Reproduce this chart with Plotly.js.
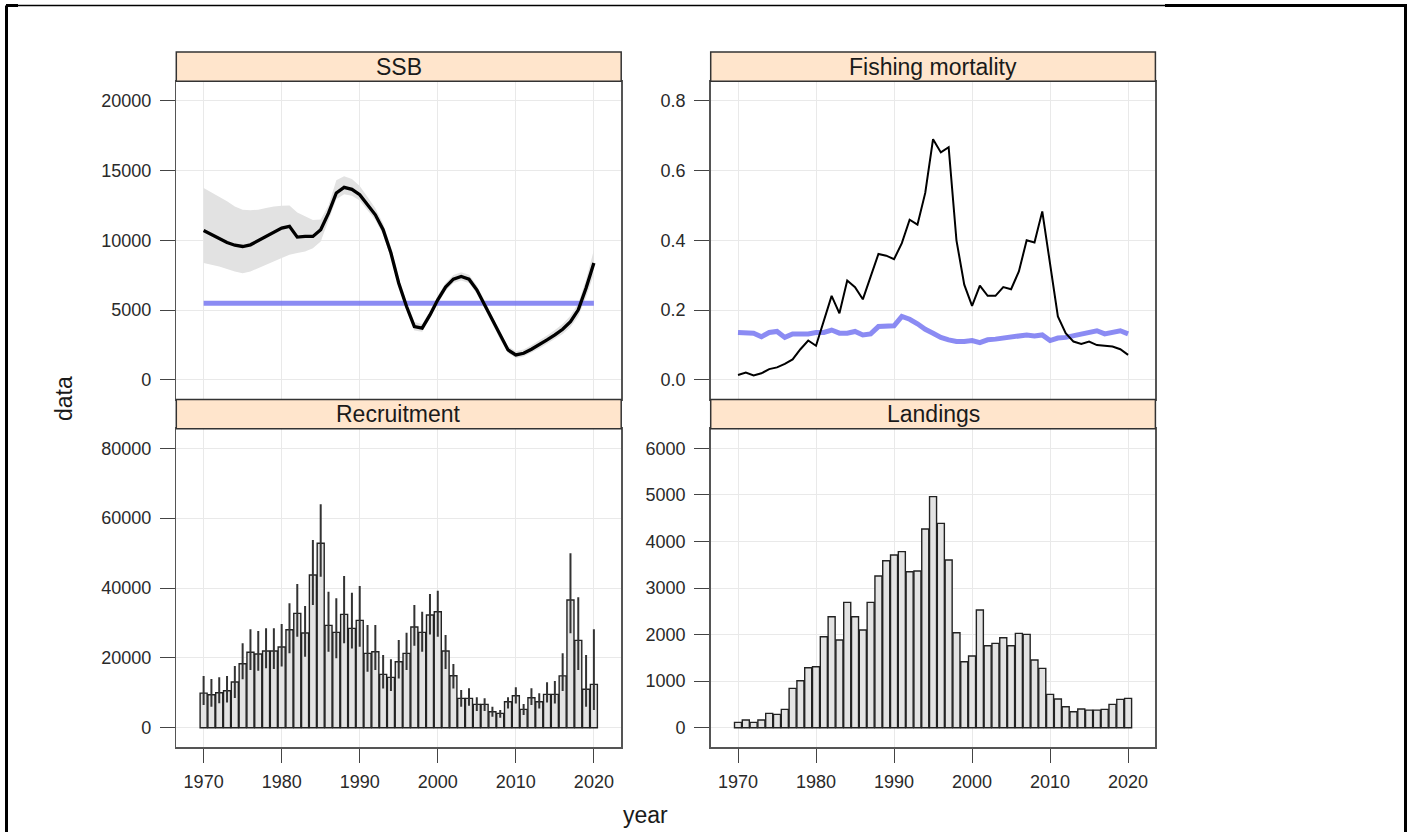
<!DOCTYPE html>
<html>
<head>
<meta charset="utf-8">
<script src="https://cdn.plot.ly/plotly-3.0.1.min.js"></script>
<style>html,body{margin:0;padding:0;background:#fff;}#chart{width:1413px;height:832px;}</style>
</head>
<body>
<div id="chart"></div>
<script>
// ---------------- data ----------------
const years = [1970,1971,1972,1973,1974,1975,1976,1977,1978,1979,
               1980,1981,1982,1983,1984,1985,1986,1987,1988,1989,
               1990,1991,1992,1993,1994,1995,1996,1997,1998,1999,
               2000,2001,2002,2003,2004,2005,2006,2007,2008,2009,
               2010,2011,2012,2013,2014,2015,2016,2017,2018,2019,2020];

const ssb = [10700,10400,10100,9850,9650,9560,9680,9990,10280,10570,
             10880,11000,10230,10280,10280,10760,11950,13390,13800,13650,
             13270,12550,11830,10760,9090,6930,5260,3830,3710,4660,
             5740,6650,7220,7410,7220,6460,5380,4300,3110,2150,
             1790,1910,2200,2510,2870,3230,3630,4180,5020,6580,8370];
const ssbUpper = [13750,13450,13150,12800,12430,12200,12150,12200,12320,12430,
                  12480,12500,12000,11700,11450,11500,12500,14300,14600,14400,
                  13900,13100,12300,11200,9500,7300,5600,4150,4000,4950,
                  6050,6950,7520,7720,7530,6760,5680,4580,3380,2420,
                  2060,2190,2490,2810,3190,3570,4000,4600,5500,7200,9300];
const ssbLower = [8370,8250,8130,7950,7770,7650,7770,8010,8250,8490,
                  8730,8970,9090,9200,9440,9920,11450,12950,13300,13200,
                  12850,12150,11450,10400,8750,6650,4950,3550,3450,4400,
                  5450,6380,6950,7130,6940,6180,5120,4050,2880,1930,
                  1570,1680,1960,2250,2590,2920,3300,3800,4550,5950,7550];
const ssbRefYears = [1970, 2020];
const ssbRef = [5500, 5500];

const fishing = [0.014,0.021,0.013,0.019,0.031,0.036,0.046,0.059,0.088,0.113,
                 0.098,0.172,0.241,0.191,0.285,0.266,0.231,0.296,0.361,0.356,
                 0.346,0.392,0.459,0.445,0.536,0.690,0.652,0.667,0.400,0.273,
                 0.212,0.270,0.241,0.241,0.266,0.260,0.311,0.400,0.394,0.483,
                 0.330,0.182,0.134,0.110,0.103,0.110,0.100,0.098,0.096,0.088,0.072];
const fishingRef = [0.136,0.136,0.134,0.124,0.136,0.139,0.122,0.132,0.132,0.132,
                    0.136,0.136,0.143,0.134,0.134,0.139,0.129,0.132,0.153,0.155,
                    0.155,0.182,0.174,0.161,0.145,0.134,0.122,0.115,0.110,0.110,
                    0.113,0.107,0.115,0.117,0.120,0.122,0.126,0.129,0.126,0.129,
                    0.113,0.120,0.122,0.126,0.132,0.136,0.141,0.132,0.136,0.141,0.132];

const recruitment = [9900,9450,10000,10600,13100,18300,21600,21100,21950,21950,
                     23100,28050,32750,27100,43700,52800,29300,27300,32450,28440,
                     30730,21280,21760,15270,14410,18900,21280,28820,27300,32260,
                     33210,21950,14890,8400,8400,6680,6680,4580,4100,7440,
                     9160,5250,8590,7440,9540,9540,14850,36550,25000,11030,12410];
const recUpper = [14800,13940,14430,14800,17670,24170,28170,27690,28460,28460,
                  29690,35620,41150,34850,53730,63940,38940,37050,43440,38660,
                  40570,29400,29400,20820,19580,25110,27200,35130,33220,38280,
                  39230,26540,18240,10800,11280,8700,8420,6010,5070,8700,
                  11570,6790,11280,9850,13000,13370,21300,49930,37340,20820,28170];
const recLower = [6500,6010,6990,7200,8500,13860,16520,16300,17010,16800,
                  17500,21300,26060,20330,35120,43230,21760,19870,24170,22700,
                  23190,16030,16510,11260,10500,14120,16510,23480,21760,26720,
                  26060,16800,11260,6010,6300,4770,4770,3150,2860,5540,
                  6970,3630,6490,5540,7250,6970,10500,27030,16520,6010,5070];

const landings = [115,165,115,165,308,286,394,845,1009,1288,
                  1310,1954,2384,1883,2691,2384,2097,2691,3257,3586,
                  3708,3780,3350,3364,4266,4961,4388,3600,2040,1417,
                  1539,2527,1761,1811,1933,1761,2026,2004,1453,1274,
                  716,616,451,344,401,379,379,394,501,608,630];

const panelTitles = ['SSB', 'Fishing mortality', 'Recruitment', 'Landings'];
const xTicks = [1970, 1980, 1990, 2000, 2010, 2020];
const ssbTicks = [0, 5000, 10000, 15000, 20000];
const fishingTicks = [0, 0.2, 0.4, 0.6, 0.8];
const recTicks = [0, 20000, 40000, 60000, 80000];
const landTicks = [0, 1000, 2000, 3000, 4000, 5000, 6000];

// ---------------- geometry helpers ----------------
const W = 1413, H = 832;
const px = v => v / W;
const py = v => 1 - v / H;

const leftDom = [px(176.3), px(621.2)];
const rightDom = [px(710.7), px(1155.4)];
const topPlot = [py(399.5), py(81.2)];
const botPlot = [py(747.3), py(428.7)];
const stripTop = [81.2, 52];
const stripBot = [428.7, 399.5];
const FONT = 'Liberation Sans, Arial, sans-serif';

// ---------------- traces ----------------
const blue = 'rgba(110,110,240,0.8)';
const traces = [
  {x: years.concat(years.slice().reverse()),
   y: ssbUpper.concat(ssbLower.slice().reverse()),
   type: 'scatter', mode: 'lines', fill: 'toself', fillcolor: '#e2e2e2',
   line: {width: 0, color: 'rgba(0,0,0,0)'}, xaxis: 'x', yaxis: 'y', hoverinfo: 'skip'},
  {x: ssbRefYears, y: ssbRef, type: 'scatter', mode: 'lines',
   line: {color: blue, width: 5}, xaxis: 'x', yaxis: 'y'},
  {x: years, y: ssb, type: 'scatter', mode: 'lines',
   line: {color: '#000', width: 3.3}, xaxis: 'x', yaxis: 'y'},
  {x: years, y: fishingRef, type: 'scatter', mode: 'lines',
   line: {color: blue, width: 5}, xaxis: 'x2', yaxis: 'y2'},
  {x: years, y: fishing, type: 'scatter', mode: 'lines',
   line: {color: '#000', width: 2}, xaxis: 'x2', yaxis: 'y2'},
  {x: years, y: recruitment, type: 'bar', width: 0.9,
   marker: {color: '#e3e3e3', line: {color: '#222', width: 1.4}},
   error_y: {type: 'data', symmetric: false,
             array: recUpper.map((u, i) => u - recruitment[i]),
             arrayminus: recruitment.map((r, i) => r - recLower[i]),
             color: '#333', thickness: 2, width: 0},
   xaxis: 'x3', yaxis: 'y3'},
  {x: years, y: landings, type: 'bar', width: 0.9,
   marker: {color: '#e3e3e3', line: {color: '#222', width: 1.4}},
   xaxis: 'x4', yaxis: 'y4'}
];

// ---------------- axes ----------------
const tickFont = {family: FONT, size: 18, color: '#2a2a2a'};
function xAxis(dom, anchor, labels) {
  return {domain: dom, anchor: anchor, range: [1966.5, 2023.5], tickvals: xTicks,
          showgrid: true, gridcolor: '#e9e9e9', gridwidth: 1, zeroline: false,
          showline: true, mirror: true, linecolor: '#555', linewidth: 1.5,
          ticks: labels ? 'outside' : '', ticklen: 14, tickcolor: '#444', tickwidth: 1,
          showticklabels: labels, tickfont: tickFont, ticklabelstandoff: 4,
          fixedrange: true};
}
function yAxis(dom, anchor, range, ticks, fmt) {
  return {domain: dom, anchor: anchor, range: range, tickvals: ticks,
          tickformat: fmt, showgrid: true, gridcolor: '#e9e9e9', gridwidth: 1,
          zeroline: false, showline: true, mirror: true, linecolor: '#555', linewidth: 1.5,
          ticks: 'outside', ticklen: 15, tickcolor: '#444', tickwidth: 1,
          tickfont: tickFont, ticklabelstandoff: 5, fixedrange: true};
}

// ---------------- strips, frame ----------------
const shapes = [];
const annotations = [];
function strip(dom, yy, title) {
  shapes.push({type: 'rect', xref: 'paper', yref: 'paper',
               x0: dom[0], x1: dom[1], y0: py(yy[0]), y1: py(yy[1]),
               fillcolor: '#ffe5cc', line: {color: '#333', width: 1.5}, layer: 'above'});
  annotations.push({xref: 'paper', yref: 'paper', x: (dom[0] + dom[1]) / 2,
                    y: py((yy[0] + yy[1]) / 2), text: title, showarrow: false,
                    xanchor: 'center', yanchor: 'middle',
                    font: {family: FONT, size: 23, color: '#1a1a1a'}});
}
strip(leftDom, stripTop, panelTitles[0]);
strip(rightDom, stripTop, panelTitles[1]);
strip(leftDom, stripBot, panelTitles[2]);
strip(rightDom, stripBot, panelTitles[3]);

function line(x0, y0, x1, y1, w) {
  shapes.push({type: 'line', xref: 'paper', yref: 'paper',
               x0: px(x0), y0: py(y0), x1: px(x1), y1: py(y1),
               line: {color: '#000', width: w}});
}
line(6.5, 5.5, 6.5, 840, 3);
line(1405.5, 5.5, 1405.5, 840, 3);
line(6, 5.5, 1405, 5.5, 1.3);
line(6, 5.5, 18, 5.5, 3);
line(1165, 5.5, 1407, 5.5, 3);

annotations.push({xref: 'paper', yref: 'paper', x: px(64), y: py(399), text: 'data',
                  textangle: -90, showarrow: false, xanchor: 'center', yanchor: 'middle',
                  font: {family: FONT, size: 23, color: '#1a1a1a'}});
annotations.push({xref: 'paper', yref: 'paper', x: px(645), y: py(815), text: 'year',
                  showarrow: false, xanchor: 'center', yanchor: 'middle',
                  font: {family: FONT, size: 23, color: '#1a1a1a'}});

const layout = {
  width: W, height: H, margin: {l: 0, r: 0, t: 0, b: 0, pad: 0},
  paper_bgcolor: '#fff', plot_bgcolor: '#fff', showlegend: false, bargap: 0,
  font: {family: FONT, color: '#333'},
  xaxis: xAxis(leftDom, 'y', false),
  yaxis: yAxis(topPlot, 'x', [-1400, 21400], ssbTicks, 'd'),
  xaxis2: xAxis(rightDom, 'y2', false),
  yaxis2: yAxis(topPlot, 'x2', [-0.056, 0.856], fishingTicks, '.1f'),
  xaxis3: xAxis(leftDom, 'y3', true),
  yaxis3: yAxis(botPlot, 'x3', [-5600, 85600], recTicks, 'd'),
  xaxis4: xAxis(rightDom, 'y4', true),
  yaxis4: yAxis(botPlot, 'x4', [-420, 6420], landTicks, 'd'),
  shapes: shapes, annotations: annotations
};

Plotly.newPlot('chart', traces, layout, {staticPlot: true, displayModeBar: false});
</script>
</body>
</html>
